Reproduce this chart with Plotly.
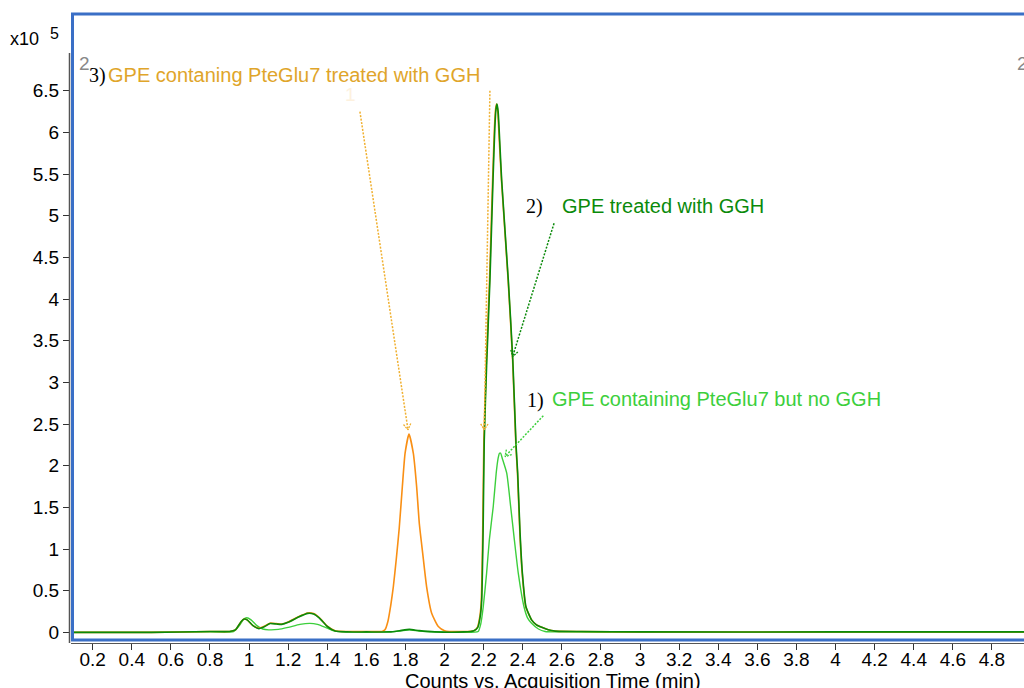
import math
import plotly.graph_objects as go

# ---------------- data (x: min, y: counts x10^5) ----------------
t_light = [0.09, 0.5, 0.8, 0.92, 0.95, 0.97, 0.988, 1.01, 1.04, 1.07, 1.1, 1.15, 1.2, 1.26, 1.311, 1.35,
           1.40, 1.44, 1.5, 1.7, 1.77, 1.82, 1.87, 1.95, 2.1, 2.172, 2.185, 2.198, 2.215, 2.229, 2.249,
           2.264, 2.274, 2.281, 2.287, 2.295, 2.318, 2.338, 2.357, 2.377, 2.406, 2.425, 2.445, 2.48, 2.514,
           2.6, 3.0, 4.0, 5.0]
y_light = [0.0, 0.0, 0.005, 0.01, 0.08, 0.15, 0.175, 0.15, 0.08, 0.04, 0.03, 0.035, 0.06, 0.095, 0.108, 0.095,
           0.05, 0.015, 0.005, 0.005, 0.015, 0.03, 0.015, 0.005, 0.0, 0.01, 0.1, 0.31, 0.71, 1.11, 1.51,
           1.91, 2.09, 2.15, 2.15, 2.09, 1.91, 1.51, 1.11, 0.71, 0.31, 0.17, 0.108, 0.04, 0.01,
           0.005, 0.0, 0.0, 0.0]

t_dark = [0.09, 0.5, 0.8, 0.9, 0.93, 0.96, 0.975, 0.99, 1.02, 1.05, 1.08, 1.107, 1.14, 1.167, 1.2, 1.25,
          1.3, 1.33, 1.36, 1.40, 1.44, 1.5, 1.6, 1.72, 1.77, 1.82, 1.87, 1.95, 2.1, 2.15, 2.17, 2.183,
          2.19, 2.197, 2.203, 2.215, 2.232, 2.248, 2.257, 2.263, 2.268, 2.274, 2.282, 2.292, 2.326, 2.349, 2.366,
          2.374, 2.386, 2.398, 2.416, 2.445, 2.47, 2.497, 2.53, 2.565, 2.7, 3.0, 4.0, 5.0]
y_dark = [0.0, 0.0, 0.01, 0.01, 0.03, 0.13, 0.16, 0.15, 0.08, 0.045, 0.07, 0.105, 0.10, 0.096, 0.12, 0.18,
          0.228, 0.22, 0.17, 0.07, 0.015, 0.005, 0.005, 0.005, 0.02, 0.035, 0.02, 0.005, 0.005, 0.02, 0.06, 0.2,
          0.39, 1.2, 2.31, 3.2, 4.23, 5.45, 6.05, 6.28, 6.34, 6.25, 5.9, 5.43, 4.23, 3.27, 2.23,
          1.91, 1.2, 0.71, 0.31, 0.15, 0.09, 0.06, 0.03, 0.015, 0.01, 0.005, 0.005, 0.005]

t_orange = [0.09, 0.5, 0.8, 0.9, 0.93, 0.96, 0.975, 0.99, 1.02, 1.05, 1.08, 1.107, 1.14, 1.167, 1.2, 1.25,
            1.3, 1.33, 1.36, 1.40, 1.44, 1.5, 1.6, 1.68, 1.695, 1.71, 1.725, 1.738, 1.753, 1.768, 1.784, 1.798,
            1.818, 1.84, 1.857, 1.871, 1.888, 1.908, 1.934, 1.968, 2.0, 2.1, 2.15, 2.168, 2.181,
            2.188, 2.195, 2.201, 2.213, 2.23, 2.246, 2.255, 2.261, 2.266, 2.272, 2.28, 2.291, 2.325, 2.348, 2.365,
            2.373, 2.385, 2.397, 2.415, 2.445, 2.47, 2.497, 2.53, 2.565, 2.7, 3.0, 4.0, 5.0]
y_orange = [0.0, 0.0, 0.01, 0.01, 0.03, 0.13, 0.16, 0.15, 0.08, 0.05, 0.075, 0.11, 0.105, 0.10, 0.125, 0.185,
            0.232, 0.225, 0.175, 0.075, 0.02, 0.01, 0.01, 0.01, 0.03, 0.13, 0.33, 0.55, 0.88, 1.25, 1.75, 2.15,
            2.38, 2.15, 1.75, 1.30, 0.95, 0.55, 0.23, 0.07, 0.02, 0.01, 0.02, 0.06, 0.2,
            0.39, 1.2, 2.31, 3.2, 4.23, 5.45, 6.05, 6.28, 6.34, 6.25, 5.9, 5.43, 4.23, 3.27, 2.23,
            1.91, 1.2, 0.71, 0.31, 0.15, 0.09, 0.06, 0.03, 0.015, 0.01, 0.005, 0.005, 0.005]

x_ticks = [0.2, 0.4, 0.6, 0.8, 1.0, 1.2, 1.4, 1.6, 1.8, 2.0, 2.2, 2.4, 2.6, 2.8, 3.0, 3.2, 3.4, 3.6,
           3.8, 4.0, 4.2, 4.4, 4.6, 4.8]
y_ticks = [0, 0.5, 1, 1.5, 2, 2.5, 3, 3.5, 4, 4.5, 5, 5.5, 6, 6.5]

# annotation texts and arrows (tail -> head) in data coords
ann3 = ("3)", "GPE contaning PteGlu7 treated with GGH")
ann2 = ("2)", "GPE treated with GGH")
ann1 = ("1)", "GPE containing PteGlu7 but no GGH")
arrow_orange_a = [(1.567, 6.25), (1.813, 2.43)]
arrow_orange_b = [(2.232, 6.50), (2.203, 2.43)]
arrow_dark = [(2.560, 4.91), (2.348, 3.31)]
arrow_light = [(2.505, 2.60), (2.309, 2.11)]

# ---------------- layout geometry ----------------
W, H = 1024, 688
L, R, T, B = 71, 1024, 13, 643
X0, X1 = 0.089, 4.964
Y0, Y1 = -0.128, 7.434

C_LIGHT = "#3ccf3c"
C_DARK = "#0a8a0a"
C_ORANGE = "#f98f14"
C_ORANGE_TXT = "#e0a52a"
C_BLUE = "#3a6fc6"
FONT = "Liberation Sans, Arial, sans-serif"
SERIF = "Liberation Serif, Times New Roman, serif"


def to_px(x, y):
    return (L + (x - X0) / (X1 - X0) * (R - L), B - (y - Y0) / (Y1 - Y0) * (B - T))


def to_data(px, py):
    return (X0 + (px - L) / (R - L) * (X1 - X0), Y0 + (B - py) / (B - T) * (Y1 - Y0))


def px_paper(px, py):
    return ((px - L) / (R - L), (B - py) / (B - T))


fig = go.Figure()

fig.add_trace(go.Scatter(x=t_light, y=y_light, mode="lines",
                         line=dict(color=C_LIGHT, width=1.4, shape="spline", smoothing=0.5),
                         hoverinfo="skip", showlegend=False))
fig.add_trace(go.Scatter(x=t_orange, y=y_orange, mode="lines",
                         line=dict(color=C_ORANGE, width=1.6, shape="spline", smoothing=0.5),
                         hoverinfo="skip", showlegend=False))
fig.add_trace(go.Scatter(x=t_dark, y=y_dark, mode="lines",
                         line=dict(color=C_DARK, width=1.6, shape="spline", smoothing=0.5),
                         hoverinfo="skip", showlegend=False))


def add_arrow(pts, color):
    (xa, ya), (xb, yb) = pts
    fig.add_trace(go.Scatter(x=[xa, xb], y=[ya, yb], mode="lines",
                             line=dict(color=color, width=1.5, dash="2px,1.5px"),
                             hoverinfo="skip", showlegend=False))
    pa = to_px(xa, ya)
    pb = to_px(xb, yb)
    ang = math.atan2(pa[1] - pb[1], pa[0] - pb[0])
    hx, hy = [], []
    for s in (-0.55, 0.55):
        ex = pb[0] + 7 * math.cos(ang + s)
        ey = pb[1] + 7 * math.sin(ang + s)
        d = to_data(ex, ey)
        hx += [d[0], xb, None]
        hy += [d[1], yb, None]
    fig.add_trace(go.Scatter(x=hx, y=hy, mode="lines",
                             line=dict(color=color, width=1.3, dash="2px,1px"),
                             hoverinfo="skip", showlegend=False))


add_arrow(arrow_orange_a, "#f0b030")
add_arrow(arrow_orange_b, "#f0b030")
add_arrow(arrow_dark, C_DARK)
add_arrow(arrow_light, C_LIGHT)

annotations = []


def txt(px, py, text, color, size, family=FONT, xanchor="left"):
    x, y = px_paper(px, py)
    annotations.append(dict(x=x, y=y, xref="paper", yref="paper", text=text, showarrow=False,
                            xanchor=xanchor, yanchor="middle",
                            font=dict(color=color, size=size, family=family)))


txt(87, 76, ann3[0], "black", 20, SERIF)
txt(106, 75, ann3[1], C_ORANGE_TXT, 20)
txt(524, 206, ann2[0], "black", 20, SERIF)
txt(560, 206, ann2[1], C_DARK, 20)
txt(525, 400, ann1[0], "black", 20, SERIF)
txt(550, 399, ann1[1], C_LIGHT, 20)
txt(77, 63, "2", "#888888", 19)
txt(1015, 63, "2", "#888888", 19)
txt(343, 95, "1", "#fdf1de", 19)
txt(8, 39, "x10", "black", 18)
txt(48, 33, "5", "black", 16)
txt(553, 681, "Counts vs. Acquisition Time (min)", "black", 20, xanchor="center")

# blue frame (left, top, bottom) and grey y axis line
shapes = []
for (p0, p1) in [((72.5, 13), (72.5, 641)), ((71, 14), (1024, 14)), ((71, 640), (1024, 640))]:
    a = px_paper(*p0)
    b = px_paper(*p1)
    shapes.append(dict(type="line", xref="paper", yref="paper", x0=a[0], y0=a[1], x1=b[0], y1=b[1],
                       line=dict(color=C_BLUE, width=3)))
a = px_paper(69.5, 53)
b = px_paper(69.5, 643)
shapes.append(dict(type="line", xref="paper", yref="paper", x0=a[0], y0=a[1], x1=b[0], y1=b[1],
                   line=dict(color="#555555", width=1.5)))

fig.update_layout(
    width=W, height=H,
    margin=dict(l=L, r=W - R, t=T, b=H - B, pad=0),
    paper_bgcolor="white", plot_bgcolor="white",
    showlegend=False,
    annotations=annotations,
    shapes=shapes,
    xaxis=dict(range=[X0, X1], tickvals=x_ticks, ticktext=[f"{v:g}" for v in x_ticks],
               ticks="outside", ticklen=6, tickcolor="#333333", tickwidth=1,
               ticklabelstandoff=-7,
               showgrid=False, zeroline=False, showline=True, linecolor="#555555", linewidth=1,
               tickfont=dict(family=FONT, size=19, color="black")),
    yaxis=dict(range=[Y0, Y1], tickvals=y_ticks, ticktext=[f"{v:g}" for v in y_ticks],
               ticks="outside", ticklen=7, tickcolor="#333333", tickwidth=1,
               showgrid=False, zeroline=False, showline=False,
               tickfont=dict(family=FONT, size=19, color="black")),
)

fig.write_html("out.html")
